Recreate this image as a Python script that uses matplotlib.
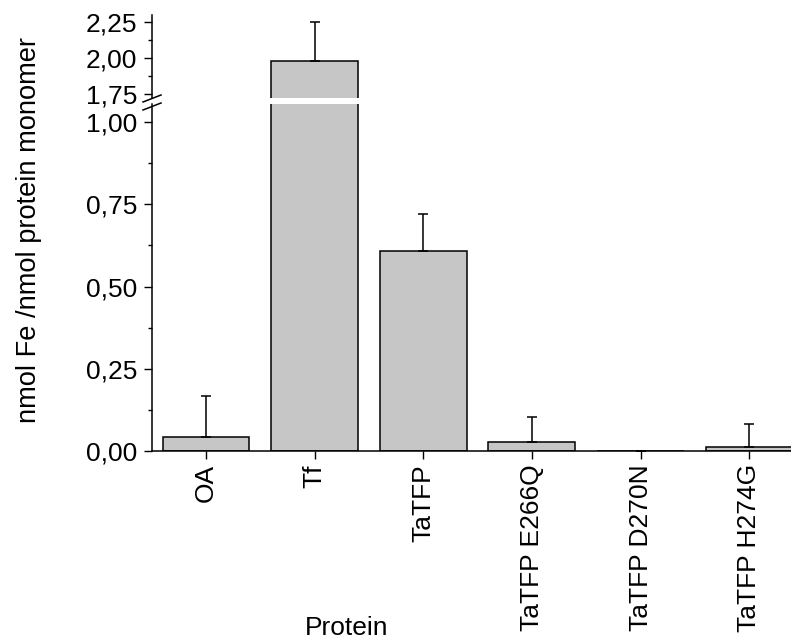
import matplotlib
matplotlib.use("Agg")
import matplotlib.pyplot as plt
from matplotlib.ticker import MultipleLocator, FuncFormatter
from matplotlib.lines import Line2D

plt.rcParams['font.family'] = ['Liberation Sans', 'DejaVu Sans']

categories = ["OA", "Tf", "TaTFP", "TaTFP E266Q", "TaTFP D270N", "TaTFP H274G"]
values = [0.042, 1.981, 0.609, 0.026, 0.0, 0.011]
errors = [0.126, 0.265, 0.110, 0.078, 0.0, 0.070]
xlabel = "Protein"
ylabel = "nmol Fe /nmol protein monomer"

W, H = 791, 640
fig = plt.figure(figsize=(W / 100, H / 100), dpi=100)

def fx(px):
    return px / W

def fy(py):
    return (H - py) / H

left, right = 151.7, 803.5
ax_lo = fig.add_axes([fx(left), fy(451), fx(right - left), fy(104) - fy(451)])
ax_hi = fig.add_axes([fx(left), fy(98), fx(right - left), fy(15) - fy(98)])

bar_color = "#c6c6c6"
fs = 19
fmt = FuncFormatter(lambda v, p: f"{v:.2f}".replace('.', ','))
x = list(range(len(categories)))

for ax in (ax_lo, ax_hi):
    ax.bar(x, values, width=0.8, color=bar_color, edgecolor="black", linewidth=1.1, zorder=2)
    ax.errorbar(x, values, yerr=[[0] * len(errors), errors], fmt="none", ecolor="black",
                elinewidth=1.1, capsize=3.6, capthick=1.1, zorder=3)
    ax.set_xlim(-0.5, len(categories) - 0.5)
    ax.spines['top'].set_visible(False)
    ax.spines['right'].set_visible(False)
    ax.spines['left'].set_linewidth(1.1)
    ax.spines['bottom'].set_linewidth(1.1)
    ax.yaxis.set_major_locator(MultipleLocator(0.25))
    ax.yaxis.set_minor_locator(MultipleLocator(0.125))
    ax.yaxis.set_major_formatter(fmt)
    ax.tick_params(axis='y', which='major', direction='out', length=5.8, width=1.0, labelsize=fs, pad=4.5)
    ax.tick_params(axis='y', which='minor', direction='out', length=3.0, width=1.0)
    ax.patch.set_alpha(0)

ax_lo.set_ylim(0, 347 / 329)
ax_hi.set_ylim(1.7245, 2.296)
ax_hi.spines['bottom'].set_visible(False)
ax_hi.tick_params(axis='x', which='both', bottom=False, labelbottom=False)

ax_lo.set_xticks(x)
ax_lo.set_xticklabels(categories, rotation=90, ha='center', va='top')
ax_lo.tick_params(axis='x', direction='out', length=5.8, width=1.0, labelsize=fs, pad=3.6)

fig.text(fx(29), fy(230), ylabel, rotation=90, ha='center', va='center', fontsize=19.6)
fig.text(fx(347), fy(628), xlabel, ha='center', va='center', fontsize=fs)

# break marks
for dy in (0, 8):
    fig.add_artist(Line2D([fx(143), fx(161)], [fy(102 + dy), fy(95 + dy)],
                          color='black', linewidth=1.1, transform=fig.transFigure))

fig.savefig("out.png", dpi=100)
